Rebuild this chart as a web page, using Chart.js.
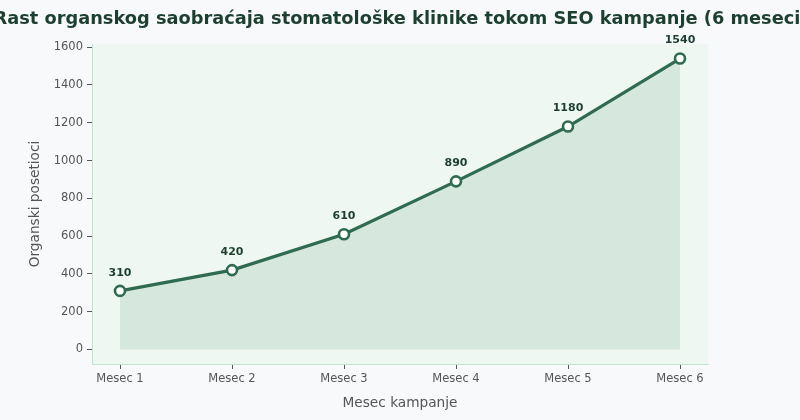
<!DOCTYPE html>
<html>
<head>
<meta charset="utf-8">
<script src="https://cdn.jsdelivr.net/npm/chart.js@4"></script>
<style>
html,body{margin:0;padding:0;background:#f8f9fb;}
#wrap{width:800px;height:420px;position:relative;}
</style>
</head>
<body>
<div id="wrap"><canvas id="c" width="800" height="420"></canvas></div>
<script>
const chartTitle = "Rast organskog saobraćaja stomatološke klinike tokom SEO kampanje (6 meseci)";
const categories = ["Mesec 1", "Mesec 2", "Mesec 3", "Mesec 4", "Mesec 5", "Mesec 6"];
const visitors = [310, 420, 610, 890, 1180, 1540];
const yTicks = [0, 200, 400, 600, 800, 1000, 1200, 1400, 1600];
const xAxisTitle = "Mesec kampanje";
const yAxisTitle = "Organski posetioci";

const FONT = "'DejaVu Sans', sans-serif";
const points = visitors.map((v, i) => ({x: i, y: v}));

const bgPlugin = {
  id: 'bg',
  beforeDraw(chart) {
    const {ctx, chartArea: a} = chart;
    ctx.save();
    ctx.fillStyle = '#f8f9fb';
    ctx.fillRect(0, 0, chart.width, chart.height);
    ctx.fillStyle = '#eff7f2';
    ctx.fillRect(a.left, a.top, a.right - a.left, a.bottom - a.top);
    ctx.restore();
  },
  afterDraw(chart) {
    const {ctx} = chart;
    ctx.save();
    ctx.font = "bold 17.8px " + FONT;
    ctx.fillStyle = '#1c3f30';
    ctx.textAlign = 'center';
    ctx.textBaseline = 'middle';
    ctx.fillText(chartTitle, chart.width / 2 + 1, 19);
    // data labels
    const meta = chart.getDatasetMeta(0);
    ctx.font = "bold 11px " + FONT;
    ctx.fillStyle = '#1c3f30';
    ctx.textBaseline = 'middle';
    meta.data.forEach((el, i) => {
      ctx.fillText(String(visitors[i]), el.x, el.y - 18);
    });
    ctx.restore();
  }
};

new Chart(document.getElementById('c'), {
  type: 'line',
  data: {
    datasets: [{
      data: points,
      borderColor: '#2f6b50',
      borderWidth: 3.2,
      backgroundColor: 'rgba(47,120,85,0.13)',
      fill: {target: {value: 0}},
      pointRadius: 5,
      pointHoverRadius: 5,
      pointBackgroundColor: '#ffffff',
      pointBorderColor: '#2f6b50',
      pointBorderWidth: 2.6,
      tension: 0
    }]
  },
  options: {
    responsive: false,
    animation: false,
    layout: {padding: {top: 44, right: 92, left: 0, bottom: 0}},
    plugins: {legend: {display: false}, title: {display: false}, tooltip: {enabled: false}},
    scales: {
      x: {
        type: 'linear',
        min: -0.25,
        max: 5.25,
        afterBuildTicks(scale) { scale.ticks = categories.map((c, i) => ({value: i})); },
        afterFit(scale) { scale.height = 56; },
        ticks: {
          callback: (v) => categories[v] ?? '',
          color: '#555555',
          font: {family: FONT, size: 11.5},
          padding: 3,
          maxRotation: 0
        },
        grid: {display: true, drawOnChartArea: false, drawTicks: true, tickLength: 5, tickColor: '#555555', tickWidth: 1},
        border: {display: true, color: '#c2e3cf', width: 1},
        title: {display: true, text: xAxisTitle, color: '#555555', font: {family: FONT, size: 13.7}, padding: {top: 0, bottom: 8}}
      },
      y: {
        type: 'linear',
        min: -77,
        max: 1617,
        afterBuildTicks(scale) { scale.ticks = yTicks.map(v => ({value: v})); },
        afterFit(scale) { scale.width = 92; },
        ticks: {
          callback: (v) => String(v),
          color: '#555555',
          font: {family: FONT, size: 11.5},
          padding: 4
        },
        grid: {display: true, drawOnChartArea: false, drawTicks: true, tickLength: 5, tickColor: '#555555', tickWidth: 1},
        border: {display: true, color: '#c2e3cf', width: 1},
        title: {display: true, text: yAxisTitle, color: '#555555', font: {family: FONT, size: 13.7}, padding: {top: 27, bottom: 0}}
      }
    }
  },
  plugins: [bgPlugin]
});
</script>
</body>
</html>
